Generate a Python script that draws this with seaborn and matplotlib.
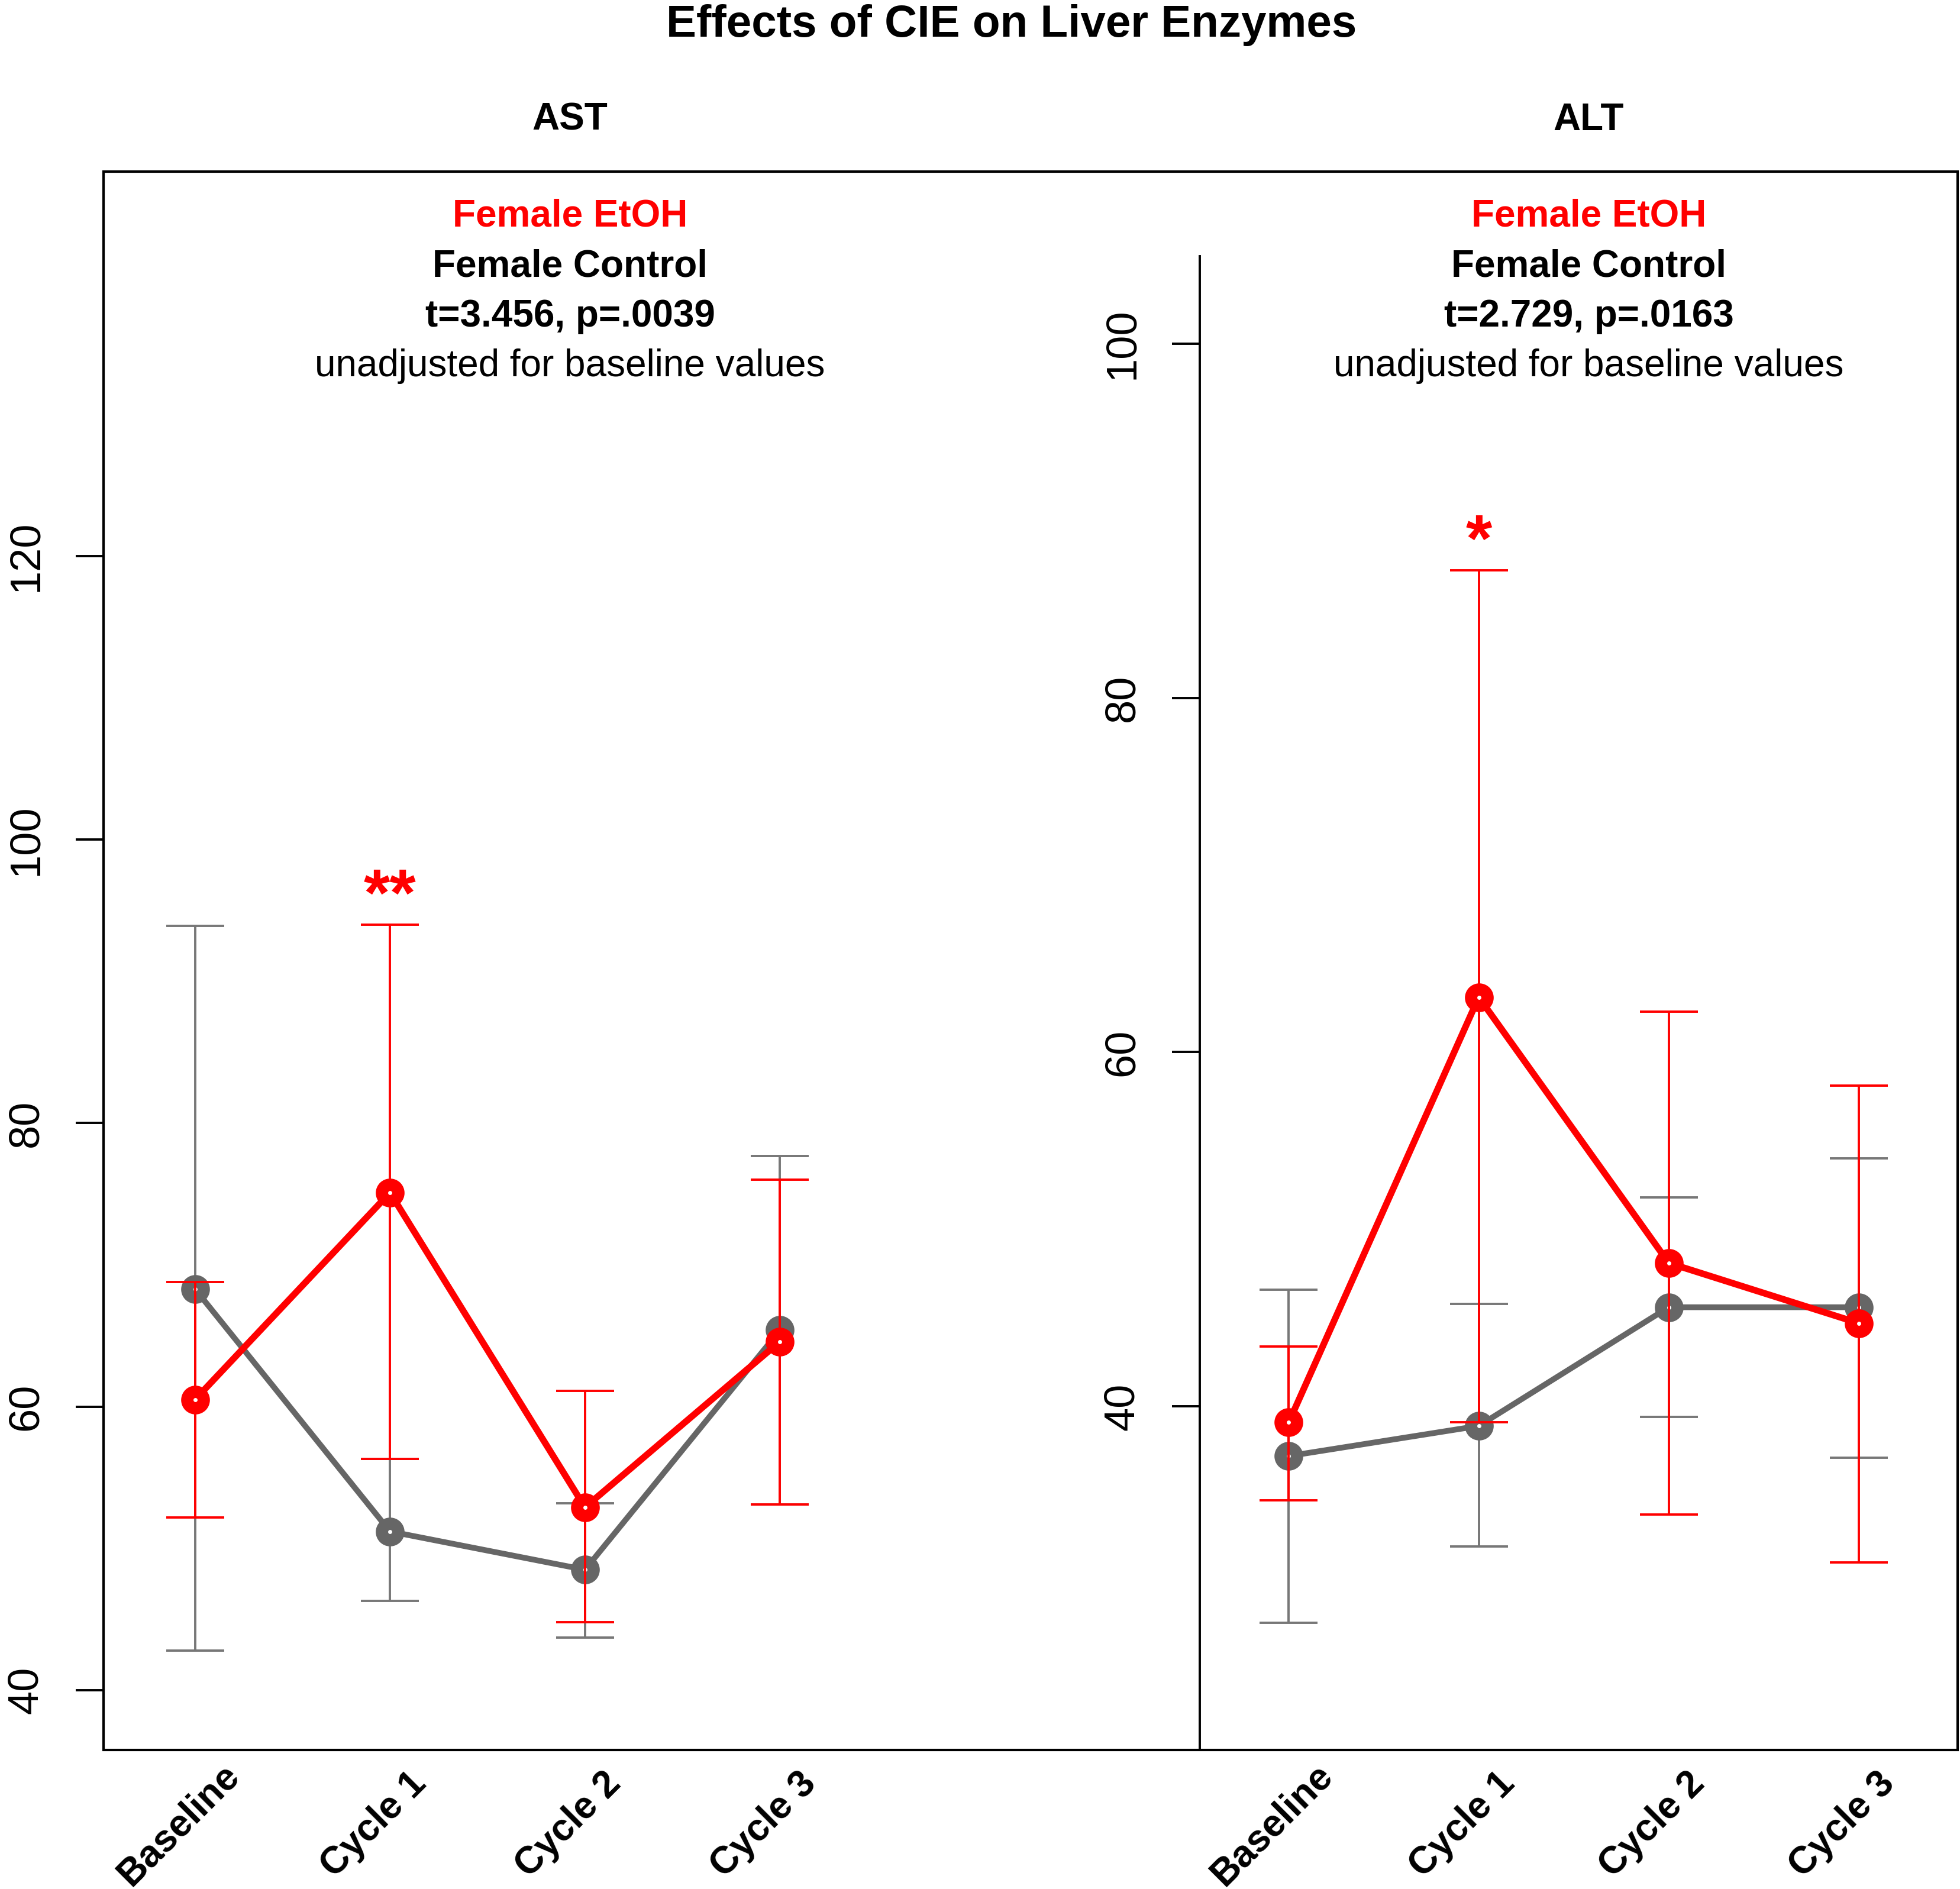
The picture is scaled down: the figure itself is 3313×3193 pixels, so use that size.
import numpy as np
import pandas as pd
import matplotlib
matplotlib.use("Agg")
import matplotlib.pyplot as plt
import matplotlib.transforms as mtransforms
from matplotlib.patches import Rectangle
import seaborn as sns

# ── Data ─────────────────────────────────────────────────────────────────────
time_points = ["Baseline", "Cycle 1", "Cycle 2", "Cycle 3"]

ast_ctrl_mean = [68.3, 51.2, 48.5, 65.4]
ast_ctrl_lo   = [42.8, 46.3, 43.7, 53.1]
ast_ctrl_hi   = [93.9, 56.3, 53.2, 77.7]
ast_etoh_mean = [60.5, 75.1, 52.9, 64.6]
ast_etoh_lo   = [52.2, 56.3, 44.8, 53.1]
ast_etoh_hi   = [68.8, 94.0, 61.1, 76.0]

alt_ctrl_mean = [37.2, 38.9, 45.6, 45.6]
alt_ctrl_lo   = [27.8, 32.1, 39.4, 37.1]
alt_ctrl_hi   = [46.6, 45.8, 51.8, 54.0]
alt_etoh_mean = [39.1, 63.1, 48.1, 44.7]
alt_etoh_lo   = [34.7, 39.1, 33.9, 31.2]
alt_etoh_hi   = [43.4, 87.2, 62.3, 58.1]

ast_stats = "t=3.456, p=.0039"
alt_stats = "t=2.729, p=.0163"

RED  = "#FF0000"
GREY = "#666666"
GREY_BAR = "#777777"

sns.set_style("ticks")
plt.rcParams["font.family"] = ["Liberation Sans", "DejaVu Sans"]
plt.rcParams["text.color"] = "black"
plt.rcParams["xtick.color"] = "black"
plt.rcParams["ytick.color"] = "black"
plt.rcParams["axes.edgecolor"] = "black"

W, H = 1568.0, 1511.0   # reference layout units


def fx(x):
    return x / W


def fy(y):
    return 1 - y / H


fig = plt.figure(figsize=(33.13, 31.93), dpi=100)

# panel rectangles (left, bottom, width, height) in figure fractions
ax_ast = fig.add_axes([fx(83), fy(1400), fx(829 - 83), (1400 - 372) / H])
ax_alt = fig.add_axes([fx(960), fy(1400), fx(1566 - 960), (1400 - 205) / H])


def draw_panel(ax, ctrl_m, ctrl_lo, ctrl_hi, etoh_m, etoh_lo, etoh_hi):
    df = pd.DataFrame({
        "time": time_points * 2,
        "value": list(ctrl_m) + list(etoh_m),
        "group": ["Control"] * 4 + ["EtOH"] * 4,
    })
    x = np.arange(len(time_points))
    for grp, mean, lo, hi, col, bcol, lw, z in [
        ("Control", ctrl_m, ctrl_lo, ctrl_hi, GREY, GREY_BAR, 7.0, 2),
        ("EtOH", etoh_m, etoh_lo, etoh_hi, RED, RED, 8.0, 4),
    ]:
        mean = np.asarray(mean)
        yerr = [mean - np.asarray(lo), np.asarray(hi) - mean]
        ax.errorbar(x, mean, yerr=yerr, fmt="none", ecolor=bcol,
                    elinewidth=2.8, capsize=35, capthick=2.8, zorder=z)
        sub = df[df["group"] == grp].copy()
        sub["pos"] = x
        sns.lineplot(data=sub, x="pos", y="value", ax=ax, sort=False,
                     color=col, linewidth=lw, marker="o", markersize=20,
                     markerfacecolor="white", markeredgecolor=col,
                     markeredgewidth=15, zorder=z + 1)

    for s in ["top", "right", "bottom"]:
        ax.spines[s].set_visible(False)
    ax.spines["left"].set_linewidth(2.8)
    ax.set_xticks([])
    ax.set_xlabel("")
    ax.set_ylabel("")
    ax.tick_params(axis="y", length=34, width=2.8, pad=36, labelsize=52,
                   labelrotation=90, colors="black")

    trans = ax.get_xaxis_transform() + mtransforms.ScaledTranslation(
        -20 / 72, -91 / 72, fig.dpi_scale_trans)
    for i, t in enumerate(time_points):
        ax.text(i, 0, t, transform=trans, rotation=45, rotation_mode="anchor",
                ha="center", va="center", fontsize=46, fontweight="bold")


draw_panel(ax_ast, ast_ctrl_mean, ast_ctrl_lo, ast_ctrl_hi,
           ast_etoh_mean, ast_etoh_lo, ast_etoh_hi)
draw_panel(ax_alt, alt_ctrl_mean, alt_ctrl_lo, alt_ctrl_hi,
           alt_etoh_mean, alt_etoh_lo, alt_etoh_hi)

ax_ast.set_xlim(-73 / 156, 3 + 205 / 156)
ax_ast.set_ylim(40 - 48 / 11.34, 40 + 980 / 11.34)
ax_ast.set_yticks([40, 60, 80, 100, 120])
ax_alt.set_xlim(-71 / 152, 3 + 79 / 152)
ax_alt.set_ylim(40 - 275 / 14.17, 40 + 920 / 14.17)
ax_alt.set_yticks([40, 60, 80, 100])
for ax in (ax_ast, ax_alt):
    for lab in ax.get_yticklabels():
        lab.set_va("center")

# significance stars
ax_ast.annotate("**", xy=(1, ast_etoh_hi[1]), xytext=(0, 11),
                textcoords="offset points", ha="center", va="baseline",
                fontsize=82, fontweight="bold", color=RED)
ax_alt.annotate("*", xy=(1, alt_etoh_hi[1]), xytext=(0, 11),
                textcoords="offset points", ha="center", va="baseline",
                fontsize=82, fontweight="bold", color=RED)

# outer frame
fig.patches.append(Rectangle((fx(83), fy(1400)), fx(1566 - 83), (1400 - 137) / H,
                             transform=fig.transFigure, fill=False,
                             edgecolor="black", linewidth=3, zorder=0))

# titles and annotations
fig.text(fx(809), fy(20), "Effects of CIE on Liver Enzymes", ha="center",
         va="center", fontsize=55, fontweight="bold")
for cx, name, stats in [(456, "AST", ast_stats), (1271, "ALT", alt_stats)]:
    fig.text(fx(cx), fy(96), name, ha="center", va="center", fontsize=46,
             fontweight="bold")
    fig.text(fx(cx), fy(173), "Female EtOH", ha="center", va="center",
             fontsize=46, fontweight="bold", color=RED)
    fig.text(fx(cx), fy(213), "Female Control", ha="center", va="center",
             fontsize=46, fontweight="bold")
    fig.text(fx(cx), fy(253), stats, ha="center", va="center",
             fontsize=46, fontweight="bold")
    fig.text(fx(cx), fy(293), "unadjusted for baseline values", ha="center",
             va="center", fontsize=46)

fig.savefig("out.png", dpi=100)
